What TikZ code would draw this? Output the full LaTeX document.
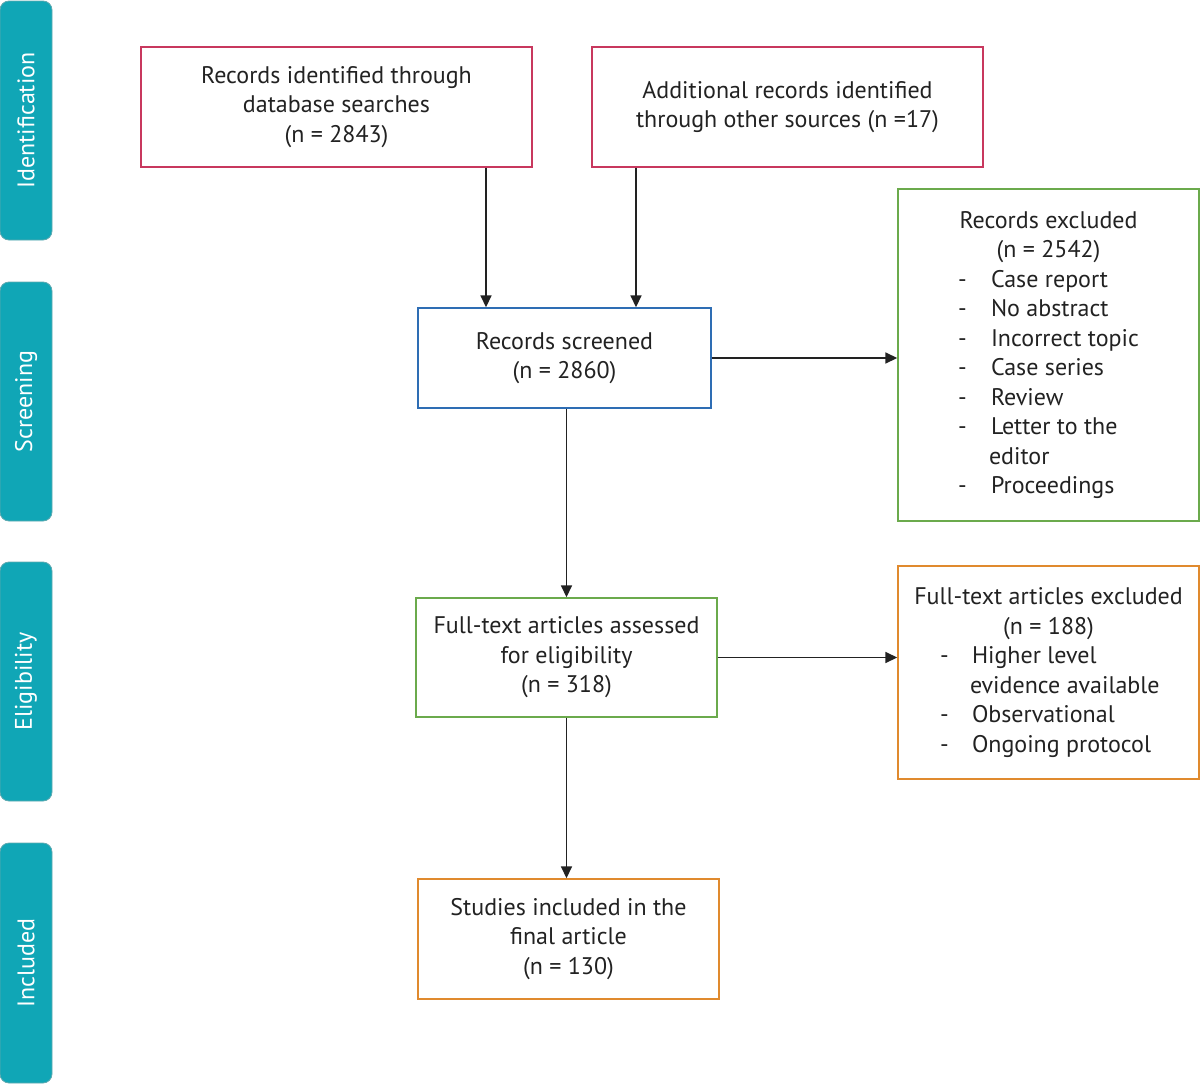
\documentclass[tikz,border=0pt]{standalone}
\usepackage{fontspec}
\setmainfont{PT Sans}
\usetikzlibrary{arrows.meta}
\definecolor{tabc}{HTML}{10A6B6}
\definecolor{tabb}{HTML}{5FA9B0}
\definecolor{crim}{HTML}{C8385E}
\definecolor{blu}{HTML}{2E6DB4}
\definecolor{grn}{HTML}{6BAA4C}
\definecolor{org}{HTML}{E08A2E}
\definecolor{ink}{HTML}{222222}
\begin{document}
\begin{tikzpicture}[x=1pt,y=-1pt,
  every node/.style={font=\fontsize{24}{29.5}\selectfont, text=ink},
  tab/.style={fill=tabc, draw=tabb, line width=0.8pt, rounded corners=9pt, rotate=90,
    minimum height=52pt, inner sep=0pt, text=white},
  box/.style={draw=#1, line width=1.4pt, inner sep=0pt, align=center},
  arr/.style={draw=ink, line width=1.6pt, -{Triangle[length=12pt,width=11pt]}}]
\useasboundingbox (0,0) rectangle (1200,1084);
% side tabs
\node[tab, minimum width=239pt] (t1) at (26,120.5) {Identification};
\node[tab, minimum width=239pt] (t2) at (26,401.5) {Screening};
\node[tab, minimum width=239pt] (t3) at (26,681.5) {Eligibility};
\node[tab, minimum width=240pt] (t4) at (26,963) {Included};
% boxes
\node[box=crim, minimum width=391pt, minimum height=120pt] (b1) at (336.5,107)
  {Records identified through\\database searches\\(n = 2843)};
\node[box=crim, minimum width=391pt, minimum height=120pt] (b2) at (787.5,107)
  {Additional records identified\\through other sources (n =17)};
\node[box=blu, minimum width=293pt, minimum height=100pt] (scr) at (564.5,358)
  {Records screened\\(n = 2860)};
\node[box=grn, minimum width=301pt, minimum height=332pt] (ex1) at (1048.5,355)
  {Records excluded\\(n = 2542)\\
   \makebox[181pt][l]{\makebox[33pt][l]{-}Case report}\\
   \makebox[181pt][l]{\makebox[33pt][l]{-}No abstract}\\
   \makebox[181pt][l]{\makebox[33pt][l]{-}Incorrect topic}\\
   \makebox[181pt][l]{\makebox[33pt][l]{-}Case series}\\
   \makebox[181pt][l]{\makebox[33pt][l]{-}Review}\\
   \makebox[181pt][l]{\makebox[33pt][l]{-}Letter to the}\\
   \makebox[181pt][l]{\makebox[31pt][l]{}editor}\\
   \makebox[181pt][l]{\makebox[33pt][l]{-}Proceedings}};
\node[box=grn, minimum width=301pt, minimum height=119pt] (ft) at (566.5,657.5)
  {Full-text articles assessed\\for eligibility\\(n = 318)};
\node[box=org, minimum width=301pt, minimum height=213pt] (ex2) at (1048.5,672.5)
  {Full-text articles excluded\\(n = 188)\\
   \makebox[217pt][l]{\makebox[32pt][l]{-}Higher level}\\
   \makebox[217pt][l]{\makebox[30pt][l]{}evidence available}\\
   \makebox[217pt][l]{\makebox[32pt][l]{-}Observational}\\
   \makebox[217pt][l]{\makebox[32pt][l]{-}Ongoing protocol}};
\node[box=org, minimum width=301pt, minimum height=120pt] (st) at (568.5,939)
  {Studies included in the\\final article\\(n = 130)};
% connectors
\coordinate (c1) at (486,0);
\coordinate (c2) at (636,0);
\draw[arr] (b1.south -| c1) -- (scr.north -| c1);
\draw[arr] (b2.south -| c2) -- (scr.north -| c2);
\draw[arr] (scr.east) -- (scr.east -| ex1.west);
\draw[arr] (scr.south -| ft.north) -- (ft.north);
\draw[arr] (ft.east) -- (ft.east -| ex2.west);
\draw[arr] (ft.south) -- (ft.south |- st.north);
\end{tikzpicture}
\end{document}
